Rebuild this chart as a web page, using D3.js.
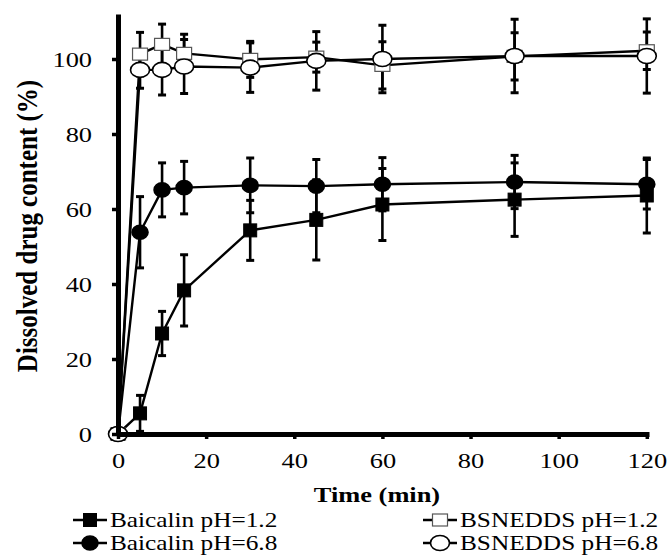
<!DOCTYPE html>
<html>
<head>
<meta charset="utf-8">
<script src="https://cdn.jsdelivr.net/npm/d3@7/dist/d3.min.js"></script>
<style>
  body { margin: 0; background: #fff; }
  svg { display: block; }
  text { font-family: 'Liberation Serif', 'Times New Roman', serif; fill: #000; }
</style>
</head>
<body>
<svg id="chart" width="670" height="556"></svg>
<script>
// sampling times (min)
let times = [0, 5, 10, 15, 30, 45, 60, 90, 120]

// dissolved drug content (%) and error (SD)
let baicalin12 = [0, 5.5, 26.8, 38.3, 54.3, 57.1, 61.2, 62.5, 63.6]
let baicalin12Err = [0, 4.8, 5.9, 9.5, 8.0, 10.7, 9.6, 9.8, 10.0]
let baicalin68 = [0, 53.8, 65.1, 65.7, 66.3, 66.1, 66.6, 67.2, 66.6]
let baicalin68Err = [0, 9.5, 7.2, 7.0, 7.3, 7.1, 7.1, 7.1, 6.6]
let bsnedds12 = [0, 101.3, 103.9, 101.5, 99.9, 100.5, 98.3, 100.7, 102.2]
let bsnedds12Err = [0, 5.8, 5.4, 5.1, 4.8, 4.0, 6.3, 6.3, 5.0]
let bsnedds68 = [0, 97.1, 97.1, 98.0, 97.7, 99.5, 100.0, 100.8, 100.8]
let bsnedds68Err = [0, 4.9, 6.7, 7.2, 6.6, 7.8, 9.0, 9.8, 9.9]

let xTicks = [0, 20, 40, 60, 80, 100, 120]
let yTicks = [0, 20, 40, 60, 80, 100]

let seriesNames = ['Baicalin pH=1.2', 'Baicalin pH=6.8', 'BSNEDDS pH=1.2', 'BSNEDDS pH=6.8']

let series = [
    {name: seriesNames[0], values: baicalin12, err: baicalin12Err, shape: 'square', fill: '#000'},
    {name: seriesNames[1], values: baicalin68, err: baicalin68Err, shape: 'circle', fill: '#000'},
    {name: seriesNames[2], values: bsnedds12, err: bsnedds12Err, shape: 'square', fill: '#fff'},
    {name: seriesNames[3], values: bsnedds68, err: bsnedds68Err, shape: 'circle', fill: '#fff'}
]

// the original figure is stretched sideways a bit
let stretch = 1.2

let svg = d3.select('#chart')

let xScale = d3.scaleLinear().domain([0, 120.5]).range([118, 649])
let yScale = d3.scaleLinear().domain([0, 112]).range([434, 14])

// error bars first, markers on top
let errLayer = svg.append('g')
let lineLayer = svg.append('g')
let markLayer = svg.append('g')

let drawMarker = (g, shape, fill) => {
    if (shape === 'square') {
        let w = fill === '#000' ? 13 : 15
        let h = fill === '#000' ? 13 : 12
        g.append('rect')
            .attr('x', -w / 2).attr('y', -h / 2)
            .attr('width', w).attr('height', h)
            .attr('fill', fill)
            .attr('stroke', fill === '#000' ? '#000' : '#555')
            .attr('stroke-width', fill === '#000' ? 1 : 1.2)
    } else {
        g.append('ellipse')
            .attr('rx', fill === '#000' ? 8 : 9.5)
            .attr('ry', fill === '#000' ? 7 : 7.5)
            .attr('fill', fill)
            .attr('stroke', '#000')
            .attr('stroke-width', 1.6)
    }
}

let line = d3.line()
    .x((d, i) => xScale(times[i]))
    .y((d) => yScale(d))

series.forEach((s) => {
    s.values.forEach((v, i) => {
        if (s.err[i] === 0) return
        let x = xScale(times[i])
        let y1 = yScale(v + s.err[i])
        let y2 = yScale(v - s.err[i])
        errLayer.append('line')
            .attr('x1', x).attr('x2', x).attr('y1', y1).attr('y2', y2)
            .attr('stroke', '#000').attr('stroke-width', 2.6)
        ;[y1, y2].forEach((yy) => {
            errLayer.append('line')
                .attr('x1', x - 4).attr('x2', x + 4).attr('y1', yy).attr('y2', yy)
                .attr('stroke', '#000').attr('stroke-width', 3)
        })
    })
})

series.forEach((s) => {
    lineLayer.append('path')
        .attr('d', line(s.values))
        .attr('fill', 'none')
        .attr('stroke', '#000')
        .attr('stroke-width', 2.4)
})

// axes
let xAxis = d3.axisBottom(xScale).tickValues(xTicks).tickSize(5).tickSizeOuter(0).tickPadding(13)
let yAxis = d3.axisLeft(yScale).tickValues(yTicks).tickSize(6).tickSizeOuter(0)

let gx = svg.append('g').attr('transform', 'translate(0,434)').call(xAxis)
let gy = svg.append('g').attr('transform', 'translate(118,0)').call(yAxis)

;[gx, gy].forEach((g) => {
    g.attr('font-family', null).attr('font-size', null)
    g.select('.domain').attr('stroke', '#000').attr('stroke-width', 5)
    g.selectAll('.tick line').attr('stroke', '#000').attr('stroke-width', 3.5)
    g.selectAll('.tick text')
        .attr('fill', '#000')
        .style('font-size', '22px')
        .attr('transform', 'scale(' + stretch + ',1)')
})
gy.selectAll('.tick text').attr('x', -26 / stretch).attr('dy', '0.34em')

series.forEach((s) => {
    s.values.forEach((v, i) => {
        let g = markLayer.append('g')
            .attr('transform', 'translate(' + xScale(times[i]) + ',' + yScale(v) + ')')
        drawMarker(g, s.shape, s.fill)
    })
})

// axis titles
svg.append('text')
    .attr('transform', 'translate(377,502) scale(' + stretch + ',1)')
    .attr('text-anchor', 'middle')
    .style('font-size', '22px').style('font-weight', 'bold')
    .text('Time (min)')

svg.append('text')
    .attr('transform', 'translate(37,226) scale(' + stretch + ',1) rotate(-90)')
    .attr('text-anchor', 'middle')
    .style('font-size', '25px').style('font-weight', 'bold')
    .text('Dissolved drug content (%)')

// legend
let legendPos = [[73, 520], [73, 543], [423, 520], [423, 543]]
series.forEach((s, i) => {
    let g = svg.append('g').attr('transform', 'translate(' + legendPos[i][0] + ',' + legendPos[i][1] + ')')
    g.append('line').attr('x1', 0).attr('x2', 34).attr('y1', 0).attr('y2', 0)
        .attr('stroke', '#000').attr('stroke-width', 2.4)
    let m = g.append('g').attr('transform', 'translate(17,0)')
    drawMarker(m, s.shape, s.fill)
    g.append('text')
        .attr('transform', 'translate(37,7) scale(1.15,1)')
        .style('font-size', '22px')
        .text(s.name)
})
</script>
</body>
</html>
